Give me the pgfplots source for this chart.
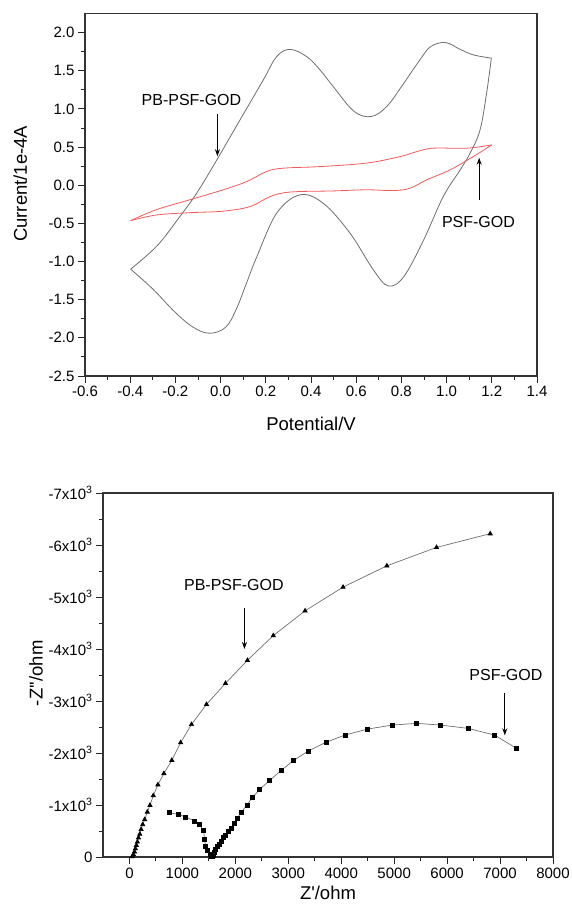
\documentclass[border=0pt]{standalone}
\usepackage{pgfplots}
\pgfplotsset{compat=1.18}
\usepackage{fontspec}
\setmainfont{Liberation Sans}
\newfontfamily\plainfont{Liberation Sans}
\usetikzlibrary{arrows.meta}
\definecolor{cvgray}{RGB}{110,110,110}
\definecolor{cvred}{RGB}{240,90,90}

\pgfplotsset{
  panel/.style={
    scale only axis,
    tick pos=left,
    tick align=outside,
    major tick length=7pt,
    minor tick length=4pt,
    tick style={black!85, line width=0.9pt},
    axis line style={black!80, line width=1.3pt},
    tick label style={font=\fontsize{15}{17}\selectfont},
    label style={font=\fontsize{18.5}{21}\selectfont},
    /pgf/number format/assume math mode=true,
  },
}
\tikzset{
  note/.style={font=\fontsize{16}{18}\selectfont},
  arr/.style={-{Stealth[length=7pt,width=5pt]}, line width=1pt, black},
}

\begin{document}
\begin{tikzpicture}
\path[use as bounding box] (0,0) rectangle (572pt,912pt);

% cyclic voltammograms
\begin{axis}[panel,
  at={(85pt,536pt)}, anchor=south west,
  width=452pt, height=362.5pt,
  xmin=-0.6, xmax=1.4, ymin=-2.5, ymax=2.25,
  xtick={-0.6,-0.4,...,1.41}, ytick={-2.5,-2,...,2.01},
  minor x tick num=1, minor y tick num=1,
  xticklabel style={/pgf/number format/.cd, fixed, fixed zerofill, precision=1},
  yticklabel style={/pgf/number format/.cd, fixed, fixed zerofill, precision=1},
  xlabel={Potential/V}, ylabel={Current/1e-4A},
  xlabel style={at={(axis description cs:0.5,-0.132)}, anchor=center},
  ylabel style={at={(axis description cs:-0.143,0.53)}, anchor=center},
]
% PB-PSF-GOD, upper branch
\addplot[cvgray, line width=0.8pt, smooth, tension=0.6] coordinates {
  (1.198,1.665) (1.118,1.708) (1.06,1.78) (0.995,1.869) (0.930,1.817)
  (0.882,1.643) (0.801,1.295) (0.736,1.034) (0.667,0.900) (0.590,0.969)
  (0.499,1.29) (0.44,1.51) (0.381,1.685) (0.307,1.78) (0.248,1.685)
  (0.189,1.38) (0.086,0.856) (-0.017,0.33) (-0.106,-0.105) (-0.19,-0.45)
  (-0.283,-0.80) (-0.398,-1.10)
};
% PB-PSF-GOD, lower branch
\addplot[cvgray, line width=0.8pt, smooth, tension=0.6] coordinates {
  (-0.398,-1.10) (-0.30,-1.36) (-0.203,-1.66) (-0.122,-1.86) (-0.049,-1.94)
  (0.023,-1.86) (0.070,-1.62) (0.115,-1.28) (0.16,-0.94) (0.248,-0.367)
  (0.351,-0.127) (0.454,-0.236) (0.573,-0.63) (0.676,-1.11) (0.742,-1.32)
  (0.81,-1.20) (0.898,-0.72) (0.985,-0.15) (1.06,0.20) (1.104,0.42)
  (1.148,0.725) (1.177,1.206) (1.198,1.665)
};
% PSF-GOD, upper branch
\addplot[cvred, line width=0.8pt, smooth, tension=0.6] coordinates {
  (1.2,0.528) (1.089,0.485) (0.941,0.485) (0.868,0.44) (0.794,0.375)
  (0.646,0.29) (0.44,0.244) (0.277,0.223) (0.204,0.18) (0.115,0.047)
  (0.012,-0.06) (-0.135,-0.19) (-0.283,-0.32) (-0.398,-0.464)
};
% PSF-GOD, lower branch
\addplot[cvred, line width=0.8pt, smooth, tension=0.6] coordinates {
  (-0.398,-0.464) (-0.283,-0.39) (-0.135,-0.36) (0.012,-0.34) (0.13,-0.28)
  (0.219,-0.15) (0.307,-0.09) (0.499,-0.075) (0.646,-0.06) (0.764,-0.07)
  (0.838,-0.04) (0.912,0.07) (1.015,0.20) (1.118,0.375) (1.2,0.528)
};
\node[note] at (axis cs:-0.129,1.12) {PB-PSF-GOD};
\draw[arr] (axis cs:-0.014,0.93) -- (axis cs:-0.014,0.38);
\node[note] at (axis cs:1.141,-0.48) {PSF-GOD};
\draw[arr] (axis cs:1.144,-0.19) -- (axis cs:1.144,0.36);
\end{axis}

% Nyquist plots
\begin{axis}[panel,
  at={(103pt,55pt)}, anchor=south west,
  width=450pt, height=364pt,
  xmin=-500, xmax=8000, ymin=-7000, ymax=0,
  y dir=reverse,
  xtick={0,1000,...,8000}, ytick={-7000,-6000,...,0},
  yticklabels={{-7x10\textsuperscript{3}},{-6x10\textsuperscript{3}},{-5x10\textsuperscript{3}},
    {-4x10\textsuperscript{3}},{-3x10\textsuperscript{3}},{-2x10\textsuperscript{3}},
    {-1x10\textsuperscript{3}},0},
  minor x tick num=1, minor y tick num=1,
  xticklabel style={/pgf/number format/set thousands separator={}},
  xlabel={\plainfont Z'/ohm}, ylabel={\plainfont -Z''/ohm},
  xlabel style={at={(axis description cs:0.5,-0.099)}, anchor=center},
  ylabel style={at={(axis description cs:-0.149,0.505)}, anchor=center},
]
% PB-PSF-GOD
\addplot[cvgray, line width=0.7pt, mark=triangle*, mark size=2.4pt,
  mark options={black, solid}] coordinates {
  (50,-10) (75,-45) (95,-100) (112,-160) (130,-225) (150,-290) (170,-370)
  (195,-440) (220,-530) (250,-625) (287,-720) (337,-865) (387,-995)
  (450,-1180) (537,-1390) (650,-1606) (800,-1860) (966,-2200) (1172,-2550)
  (1455,-2935) (1814,-3340) (2228,-3783) (2717,-4258) (3317,-4734)
  (4034,-5190) (4862,-5600) (5800,-5954) (6814,-6217)
};
% PSF-GOD
\addplot[cvgray, line width=0.7pt, mark=square*, mark size=2pt,
  mark options={black, solid}] coordinates {
  (760,-850) (920,-820) (1060,-770) (1230,-695) (1320,-630) (1400,-510)
  (1420,-330) (1440,-200) (1480,-120) (1520,-60) (1545,-20) (1565,-5)
  (1585,-40) (1605,-90) (1630,-150) (1660,-200) (1700,-250) (1740,-310)
  (1780,-370) (1820,-420) (1870,-490) (1920,-560) (1980,-640) (2030,-740)
  (2110,-860) (2220,-1000) (2320,-1140) (2460,-1300) (2640,-1465)
  (2860,-1660) (3090,-1850) (3380,-2040) (3720,-2210) (4070,-2345)
  (4500,-2460) (4960,-2537) (5420,-2570) (5880,-2537) (6400,-2473)
  (6900,-2344) (7300,-2094)
};
\node[note] at (axis cs:1972,-5234) {PB-PSF-GOD};
\draw[arr] (axis cs:2172,-4785) -- (axis cs:2172,-4000);
\node[note] at (axis cs:7110,-3500) {PSF-GOD};
\draw[arr] (axis cs:7090,-3150) -- (axis cs:7090,-2340);
\end{axis}
\end{tikzpicture}
\end{document}
